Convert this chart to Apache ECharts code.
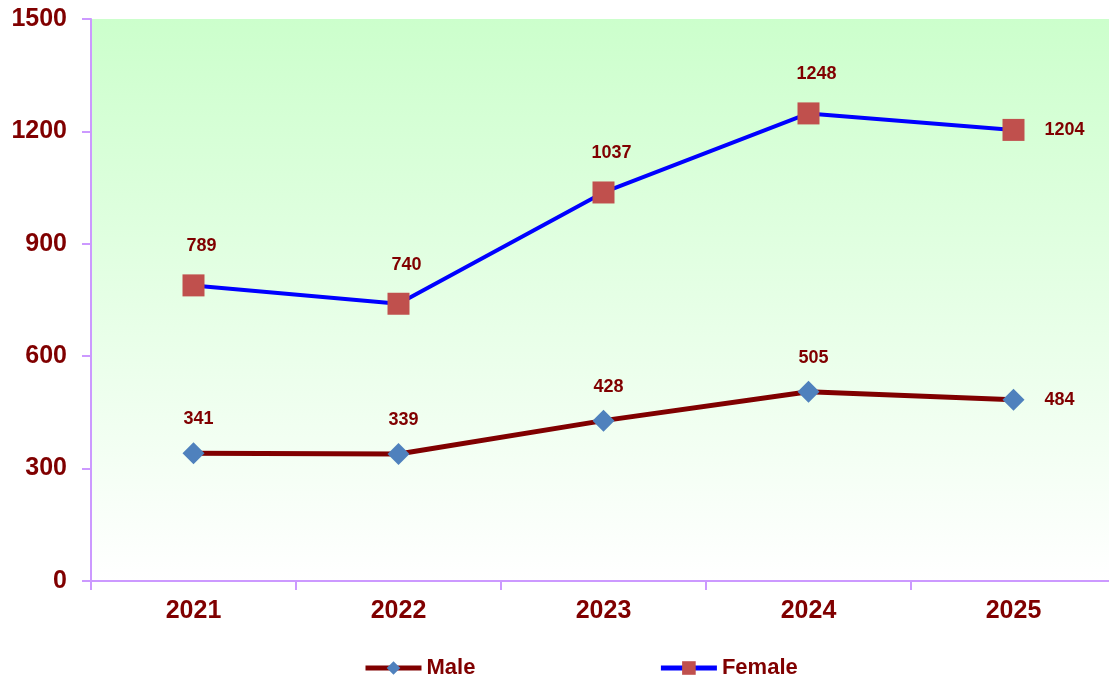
<!DOCTYPE html>
<html>
<head>
<meta charset="utf-8">
<script src="https://cdn.jsdelivr.net/npm/echarts@6/dist/echarts.min.js"></script>
<style>
  html, body { margin: 0; padding: 0; background: #ffffff; overflow: hidden; }
  /* the plot runs a few pixels past the right edge of the window, as in the original */
  #main { width: 1116px; height: 679px; }
</style>
</head>
<body>
<div id="main"></div>
<script>
// chart data
const years = ['2021', '2022', '2023', '2024', '2025'];
const male = [341, 339, 428, 505, 484];
const female = [789, 740, 1037, 1248, 1204];
const yTicks = [0, 300, 600, 900, 1200, 1500];

const labelColor = '#800000';
const axisColor = '#cc99ff';

// last point of each line gets its label on the right
function withLabels(values) {
    return values.map(function (v, i) {
        if (i === values.length - 1) {
            return { value: v, label: { position: 'right', distance: 20, offset: [0, 0] } };
        }
        return v;
    });
}

let myChart = echarts.init(document.getElementById('main'));
myChart.setOption({
    backgroundColor: '#ffffff',
    animation: false,
    grid: {
        left: 91,
        top: 19,
        right: 0,
        bottom: 98,
        show: true,
        borderWidth: 0,
        backgroundColor: new echarts.graphic.LinearGradient(0, 0, 0, 1, [
            { offset: 0, color: '#ccffcc' },
            { offset: 1, color: '#ffffff' }
        ])
    },
    legend: {
        top: 652,
        left: 358,
        itemGap: 183,
        itemWidth: 56,
        itemHeight: 17,
        textStyle: {
            color: labelColor,
            fontFamily: 'Liberation Sans',
            fontWeight: 'bold',
            fontSize: 22
        },
        data: [
            { name: 'Male', lineStyle: { width: 5 } },
            { name: 'Female', lineStyle: { width: 5 } }
        ]
    },
    xAxis: {
        type: 'category',
        data: years,
        boundaryGap: true,
        axisLine: { lineStyle: { color: axisColor, width: 2 } },
        axisTick: { show: true, length: 9, lineStyle: { color: axisColor, width: 2 } },
        axisLabel: {
            margin: 18,
            color: labelColor,
            fontFamily: 'Liberation Sans',
            fontWeight: 'bold',
            fontSize: 25
        },
        splitLine: { show: false }
    },
    yAxis: {
        type: 'value',
        min: yTicks[0],
        max: yTicks[yTicks.length - 1],
        interval: 300,
        axisLine: { show: true, lineStyle: { color: axisColor, width: 2 } },
        axisTick: { show: true, length: 9, lineStyle: { color: axisColor, width: 2 } },
        axisLabel: {
            margin: 24,
            formatter: function (v) { return String(v); },
            color: labelColor,
            fontFamily: 'Liberation Sans',
            fontWeight: 'bold',
            fontSize: 25
        },
        splitLine: { show: false }
    },
    series: [
        {
            name: 'Male',
            type: 'line',
            data: withLabels(male),
            symbol: 'diamond',
            symbolSize: 22,
            itemStyle: { color: '#4f81bd' },
            lineStyle: { color: '#800000', width: 5 },
            label: {
                show: true,
                position: 'top',
                distance: 14,
                offset: [5, 0],
                color: labelColor,
                fontFamily: 'Liberation Sans',
                fontWeight: 'bold',
                fontSize: 18
            }
        },
        {
            name: 'Female',
            type: 'line',
            data: withLabels(female),
            symbol: 'rect',
            symbolSize: 22,
            itemStyle: { color: '#c0504d' },
            lineStyle: { color: '#0000ff', width: 4 },
            label: {
                show: true,
                position: 'top',
                distance: 19,
                offset: [8, 0],
                color: labelColor,
                fontFamily: 'Liberation Sans',
                fontWeight: 'bold',
                fontSize: 18
            }
        }
    ]
});
</script>
</body>
</html>
